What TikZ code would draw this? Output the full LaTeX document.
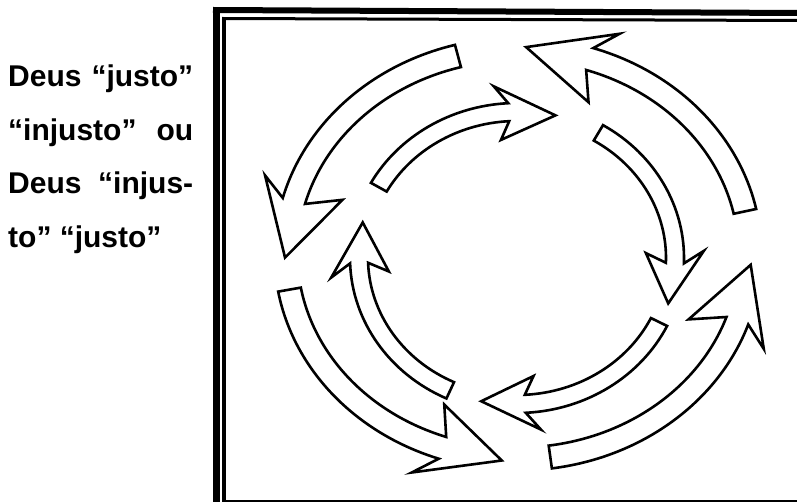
\documentclass[tikz,border=0pt]{standalone}
\usepackage{fontspec}
\newfontfamily\versefont{Liberation Sans}
\usetikzlibrary{calc}

\begin{document}
\begin{tikzpicture}[
    x=1pt, y=-1pt,
    % Estilos
    ring arrow/.style={
        draw=black, fill=white, line width=2.6pt,
        line join=miter, miter limit=6
    },
    frame line/.style={
        draw=black, line width=#1
    },
    verse/.style={
        anchor=base west, inner sep=0pt, text=black,
        font=\versefont\bfseries\fontsize{30}{30}\selectfont
    }
]

\useasboundingbox (0,0) rectangle (797,502);

% ════════════════════════════════════════
% MARCO doble (izq + arriba), fino abajo
% ════════════════════════════════════════
\coordinate (outer sw) at (216.5,502);
\coordinate (outer nw) at (216.5,10);
\coordinate (outer ne) at (797,13);
\coordinate (inner sw) at (224,502);
\coordinate (inner nw) at (224,18.5);
\coordinate (inner ne) at (797,20.5);
\coordinate (base w)   at (222,500.5);
\coordinate (base e)   at (797,500.5);

\draw[frame line=7pt] (outer sw) -- (outer nw);
\draw[frame line=6pt] (outer nw -| 213,0) -- (outer ne);
\draw[frame line=4pt] (inner sw) -- (inner nw);
\draw[frame line=3pt] (inner nw -| 222,0) -- (inner ne);
\draw[frame line=2pt] (base w) -- (base e);

% ════════════════════════════════════════
% ANILLO exterior (sentido antihorario)
% ════════════════════════════════════════
\begin{scope}[shift={(518,254)}]
\foreach \t/\h/\p in {255/195/179, 348/288/272, 82/19/3, 170/109/94}
    \draw[ring arrow] (\t:243.5 and 216.5)
        arc[start angle=\t, end angle=\h, x radius=243.5, y radius=216.5]
        -- ({\h+(\t-\h)/14}:268 and 238)
        -- (\p:233 and 207)
        -- ({\h+(\t-\h)/14}:186 and 164)
        -- (\h:220.5 and 193.5)
        arc[start angle=\h, end angle=\t, x radius=220.5, y radius=193.5]
        -- cycle;
\end{scope}

% ════════════════════════════════════════
% ANILLO interior (sentido horario)
% ════════════════════════════════════════
\begin{scope}[shift={(517,258)}]
\foreach \t/\h/\p in {209/267/284, 301/362/378, 26/87/103, 115/178/194}
    \draw[ring arrow] (\t:167 and 155)
        arc[start angle=\t, end angle=\h, x radius=167, y radius=155]
        -- ({\h+(\t-\h)/14}:187 and 173)
        -- (\p:159 and 147)
        -- ({\h+(\t-\h)/14}:129 and 119)
        -- (\h:149 and 137)
        arc[start angle=\h, end angle=\t, x radius=149, y radius=137]
        -- cycle;
\end{scope}

% ════════════════════════════════════════
% TEXTO (columna izq, justificado)
% ════════════════════════════════════════
\node[verse] (line1) at (8,87)    {\makebox[185pt][s]{Deus “justo”}};
\node[verse] (line2) at (8,140.5) {\makebox[185pt][s]{“injusto” ou}};
\node[verse] (line3) at (8,194)   {\makebox[185pt][s]{Deus “injus-}};
\node[verse] (line4) at (8,247.5) {to” “justo”};

\end{tikzpicture}
\end{document}
